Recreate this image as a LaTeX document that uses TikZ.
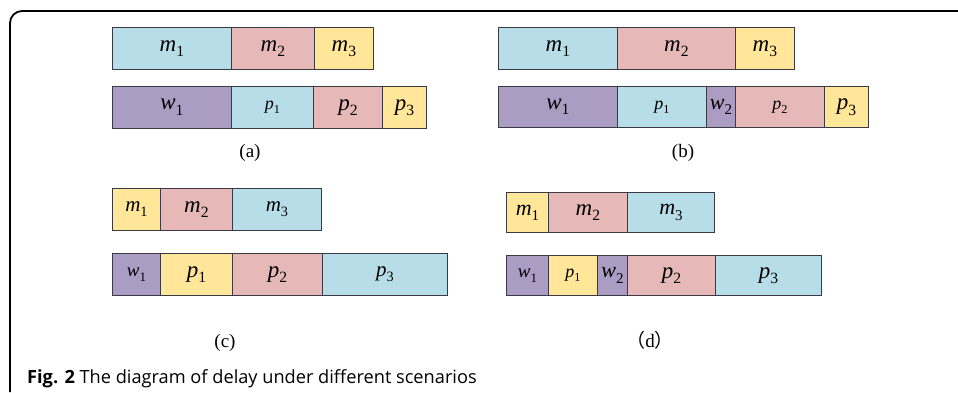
\documentclass[tikz,border=0pt]{standalone}
\usepackage{fontspec}
\setmainfont{Liberation Serif}
\newfontfamily\capfont{Open Sans}
\newfontfamily\cjk{Noto Sans CJK SC}
\definecolor{cblue}{HTML}{B7DEE8}
\definecolor{cpink}{HTML}{E6B9B8}
\definecolor{cyell}{HTML}{FFE699}
\definecolor{cpurp}{HTML}{AA9CC2}
\definecolor{cedge}{HTML}{3A3A44}
\newcommand\Lab[3][23]{{\fontsize{#1}{#1}\selectfont\textit{#2}\raisebox{\fpeval{-0.24*#1}pt}{\fontsize{\fpeval{0.68*#1}}{\fpeval{0.68*#1}}\selectfont #3}}}
\tikzset{
  cell/.style={draw=cedge, line width=0.9pt, rectangle, inner sep=0pt, anchor=north west},
  panlab/.style={font=\fontsize{19}{19}\selectfont, inner sep=0pt}
}
\begin{document}
\begin{tikzpicture}[x=1pt,y=-1pt]
\useasboundingbox (0,0) rectangle (958,392);
\draw[line width=1.8pt, rounded corners=12pt] (10,392) -- (10,11) -- (958,11);
% (a)
\node[cell, fill=cblue, minimum width=119pt, minimum height=42pt] (am1) at (112,27) {\Lab{m}{1}};
\node[cell, fill=cpink, minimum width=83pt, minimum height=42pt] (am2) at (231,27) {\Lab{m}{2}};
\node[cell, fill=cyell, minimum width=59pt, minimum height=42pt] (am3) at (314,27) {\Lab{m}{3}};
\node[cell, fill=cpurp, minimum width=119pt, minimum height=42pt] (aw1) at (112,86) {\Lab{w}{1}};
\node[cell, fill=cblue, minimum width=82pt, minimum height=42pt] (ap1) at (231,86) {\Lab[18]{p}{1}};
\node[cell, fill=cpink, minimum width=69pt, minimum height=42pt] (ap2) at (313,86) {\Lab{p}{2}};
\node[cell, fill=cyell, minimum width=44pt, minimum height=42pt] (ap3) at (382,86) {\Lab{p}{3}};
\node[panlab] (la) at (250,153) {(a)};
% (b)
\node[cell, fill=cblue, minimum width=119pt, minimum height=42pt] (bm1) at (498,27) {\Lab{m}{1}};
\node[cell, fill=cpink, minimum width=118pt, minimum height=42pt] (bm2) at (617,27) {\Lab{m}{2}};
\node[cell, fill=cyell, minimum width=59pt, minimum height=42pt] (bm3) at (735,27) {\Lab{m}{3}};
\node[cell, fill=cpurp, minimum width=119pt, minimum height=41pt] (bw1) at (498,86) {\Lab{w}{1}};
\node[cell, fill=cblue, minimum width=89pt, minimum height=41pt] (bp1) at (617,86) {\Lab[18]{p}{1}};
\node[cell, fill=cpurp, minimum width=29pt, minimum height=41pt] (bw2) at (706,86) {\Lab[22]{w}{2}};
\node[cell, fill=cpink, minimum width=89pt, minimum height=41pt] (bp2) at (735,86) {\Lab[18]{p}{2}};
\node[cell, fill=cyell, minimum width=44pt, minimum height=41pt] (bp3) at (824,86) {\Lab{p}{3}};
\node[panlab] (lb) at (683,153) {(b)};
% (c)
\node[cell, fill=cyell, minimum width=48pt, minimum height=42pt] (cm1) at (112,188) {\Lab[21]{m}{1}};
\node[cell, fill=cpink, minimum width=72pt, minimum height=42pt] (cm2) at (160,188) {\Lab{m}{2}};
\node[cell, fill=cblue, minimum width=89pt, minimum height=42pt] (cm3) at (232,188) {\Lab[21]{m}{3}};
\node[cell, fill=cpurp, minimum width=48pt, minimum height=42pt] (cw1) at (112,253) {\Lab[19]{w}{1}};
\node[cell, fill=cyell, minimum width=72pt, minimum height=42pt] (cp1) at (160,253) {\Lab{p}{1}};
\node[cell, fill=cpink, minimum width=90pt, minimum height=42pt] (cp2) at (232,253) {\Lab{p}{2}};
\node[cell, fill=cblue, minimum width=125pt, minimum height=42pt] (cp3) at (322,253) {\Lab[21]{p}{3}};
\node[panlab] (lc) at (225,343) {(c)};
% (d)
\node[cell, fill=cyell, minimum width=42pt, minimum height=40pt] (dm1) at (506,192) {\Lab[22]{m}{1}};
\node[cell, fill=cpink, minimum width=79pt, minimum height=40pt] (dm2) at (548,192) {\Lab{m}{2}};
\node[cell, fill=cblue, minimum width=87pt, minimum height=40pt] (dm3) at (627,192) {\Lab[22]{m}{3}};
\node[cell, fill=cpurp, minimum width=42pt, minimum height=40pt] (dw1) at (506,255) {\Lab[19]{w}{1}};
\node[cell, fill=cyell, minimum width=49pt, minimum height=40pt] (dp1) at (548,255) {\Lab[18]{p}{1}};
\node[cell, fill=cpurp, minimum width=30pt, minimum height=40pt] (dw2) at (597,255) {\Lab[22]{w}{2}};
\node[cell, fill=cpink, minimum width=88pt, minimum height=40pt] (dp2) at (627,255) {\Lab{p}{2}};
\node[cell, fill=cblue, minimum width=106pt, minimum height=40pt] (dp3) at (715,255) {\Lab{p}{3}};
\node[panlab] (ld) at (650,340) {{\cjk （}d{\cjk ）}};
% caption
\node[anchor=base west, inner sep=0pt, font=\capfont\fontsize{18.2}{18.2}\selectfont] (cap) at (27,383) {\textbf{Fig. 2} The diagram of delay under different scenarios};
\end{tikzpicture}
\end{document}
